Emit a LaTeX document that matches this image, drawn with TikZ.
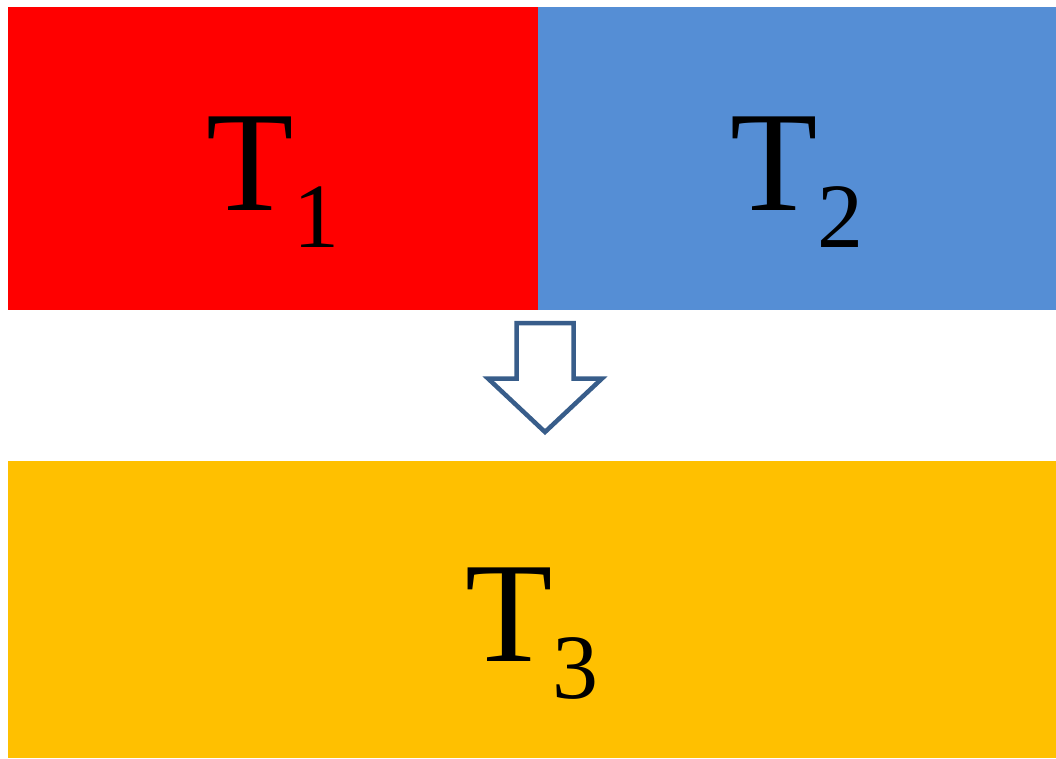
\documentclass[tikz,border=0pt]{standalone}
\usepackage{fontspec}
\setmainfont{Liberation Serif}
\usepackage{xcolor}
\usepackage{tikz}

\definecolor{boxred}{HTML}{FF0000}
\definecolor{boxblue}{HTML}{558ED5}
\definecolor{boxorange}{HTML}{FFC000}
\definecolor{arrowline}{HTML}{385D8A}

\newcommand{\bigT}[1]{\fontsize{143}{143}\selectfont T\raisebox{-37pt}{\fontsize{92}{92}\selectfont #1}}

\tikzset{
  tblock/.style={inner sep=0pt, outer sep=0pt, anchor=north west},
  tlabel/.style={anchor=base, inner sep=0pt, text=black}
}

\begin{document}
\begin{tikzpicture}[x=1pt, y=-1pt]
    \useasboundingbox (0,0) rectangle (1056,758);

    % Input blocks
    \node[tblock, fill=boxred, minimum width=530pt, minimum height=303pt] (t1) at (8,7) {};
    \node[tblock, fill=boxblue, minimum width=518pt, minimum height=303pt] (t2) at (t1.north east) {};

    % Output block
    \node[tblock, fill=boxorange, minimum width=1048pt, minimum height=297pt] (t3) at (8,461) {};

    % Labels
    \node[tlabel] (l1) at ([yshift=-51.5pt]t1.center) {\bigT{1}};
    \node[tlabel] (l2) at ([yshift=-51.5pt]t2.center) {\bigT{2}};
    \node[tlabel] (l3) at ([yshift=-51.5pt]t3.center) {\bigT{3}};

    % Block arrow
    \coordinate (tip) at (545,432);
    \draw[arrowline, line width=4.5pt, fill=white, line join=miter]
        (516.5,323) -- (573.5,323) -- (573.5,378.5) -- (602,378.5)
        -- (tip) -- (488,378.5) -- (516.5,378.5) -- cycle;
\end{tikzpicture}
\end{document}
